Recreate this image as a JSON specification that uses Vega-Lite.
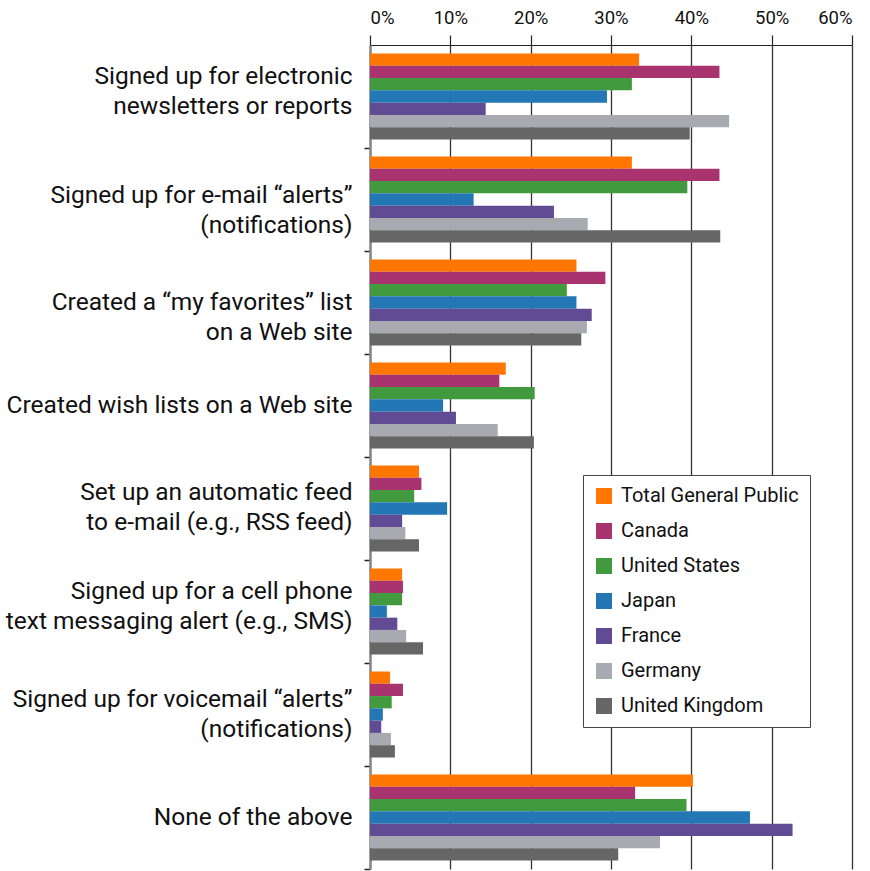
{
  "$schema": "https://vega.github.io/schema/vega-lite/v6.json",
  "autosize": "none",
  "width": 482,
  "height": 824,
  "padding": {"left": 370, "top": 45, "right": 18, "bottom": 2},
  "background": "white",
  "config": {
    "font": "Roboto",
    "view": {"stroke": null}
  },
  "data": {
    "values": [
      {"cat": "Signed up for electronic|newsletters or reports", "grp": "Total General Public", "v": 33.5},
      {"cat": "Signed up for electronic|newsletters or reports", "grp": "Canada", "v": 43.5},
      {"cat": "Signed up for electronic|newsletters or reports", "grp": "United States", "v": 32.6},
      {"cat": "Signed up for electronic|newsletters or reports", "grp": "Japan", "v": 29.5},
      {"cat": "Signed up for electronic|newsletters or reports", "grp": "France", "v": 14.4},
      {"cat": "Signed up for electronic|newsletters or reports", "grp": "Germany", "v": 44.7},
      {"cat": "Signed up for electronic|newsletters or reports", "grp": "United Kingdom", "v": 39.8},
      {"cat": "Signed up for e-mail “alerts”|(notifications)", "grp": "Total General Public", "v": 32.6},
      {"cat": "Signed up for e-mail “alerts”|(notifications)", "grp": "Canada", "v": 43.5},
      {"cat": "Signed up for e-mail “alerts”|(notifications)", "grp": "United States", "v": 39.5},
      {"cat": "Signed up for e-mail “alerts”|(notifications)", "grp": "Japan", "v": 12.9},
      {"cat": "Signed up for e-mail “alerts”|(notifications)", "grp": "France", "v": 22.9},
      {"cat": "Signed up for e-mail “alerts”|(notifications)", "grp": "Germany", "v": 27.1},
      {"cat": "Signed up for e-mail “alerts”|(notifications)", "grp": "United Kingdom", "v": 43.6},
      {"cat": "Created a “my favorites” list|on a Web site", "grp": "Total General Public", "v": 25.7},
      {"cat": "Created a “my favorites” list|on a Web site", "grp": "Canada", "v": 29.3},
      {"cat": "Created a “my favorites” list|on a Web site", "grp": "United States", "v": 24.5},
      {"cat": "Created a “my favorites” list|on a Web site", "grp": "Japan", "v": 25.7},
      {"cat": "Created a “my favorites” list|on a Web site", "grp": "France", "v": 27.6},
      {"cat": "Created a “my favorites” list|on a Web site", "grp": "Germany", "v": 27.0},
      {"cat": "Created a “my favorites” list|on a Web site", "grp": "United Kingdom", "v": 26.3},
      {"cat": "Created wish lists on a Web site", "grp": "Total General Public", "v": 16.9},
      {"cat": "Created wish lists on a Web site", "grp": "Canada", "v": 16.1},
      {"cat": "Created wish lists on a Web site", "grp": "United States", "v": 20.5},
      {"cat": "Created wish lists on a Web site", "grp": "Japan", "v": 9.1},
      {"cat": "Created wish lists on a Web site", "grp": "France", "v": 10.7},
      {"cat": "Created wish lists on a Web site", "grp": "Germany", "v": 15.9},
      {"cat": "Created wish lists on a Web site", "grp": "United Kingdom", "v": 20.4},
      {"cat": "Set up an automatic feed|to e-mail (e.g., RSS feed)", "grp": "Total General Public", "v": 6.1},
      {"cat": "Set up an automatic feed|to e-mail (e.g., RSS feed)", "grp": "Canada", "v": 6.4},
      {"cat": "Set up an automatic feed|to e-mail (e.g., RSS feed)", "grp": "United States", "v": 5.5},
      {"cat": "Set up an automatic feed|to e-mail (e.g., RSS feed)", "grp": "Japan", "v": 9.6},
      {"cat": "Set up an automatic feed|to e-mail (e.g., RSS feed)", "grp": "France", "v": 4.0},
      {"cat": "Set up an automatic feed|to e-mail (e.g., RSS feed)", "grp": "Germany", "v": 4.4},
      {"cat": "Set up an automatic feed|to e-mail (e.g., RSS feed)", "grp": "United Kingdom", "v": 6.1},
      {"cat": "Signed up for a cell phone|text messaging alert (e.g., SMS)", "grp": "Total General Public", "v": 4.0},
      {"cat": "Signed up for a cell phone|text messaging alert (e.g., SMS)", "grp": "Canada", "v": 4.1},
      {"cat": "Signed up for a cell phone|text messaging alert (e.g., SMS)", "grp": "United States", "v": 4.0},
      {"cat": "Signed up for a cell phone|text messaging alert (e.g., SMS)", "grp": "Japan", "v": 2.1},
      {"cat": "Signed up for a cell phone|text messaging alert (e.g., SMS)", "grp": "France", "v": 3.4},
      {"cat": "Signed up for a cell phone|text messaging alert (e.g., SMS)", "grp": "Germany", "v": 4.5},
      {"cat": "Signed up for a cell phone|text messaging alert (e.g., SMS)", "grp": "United Kingdom", "v": 6.6},
      {"cat": "Signed up for voicemail “alerts”|(notifications)", "grp": "Total General Public", "v": 2.5},
      {"cat": "Signed up for voicemail “alerts”|(notifications)", "grp": "Canada", "v": 4.1},
      {"cat": "Signed up for voicemail “alerts”|(notifications)", "grp": "United States", "v": 2.7},
      {"cat": "Signed up for voicemail “alerts”|(notifications)", "grp": "Japan", "v": 1.6},
      {"cat": "Signed up for voicemail “alerts”|(notifications)", "grp": "France", "v": 1.4},
      {"cat": "Signed up for voicemail “alerts”|(notifications)", "grp": "Germany", "v": 2.6},
      {"cat": "Signed up for voicemail “alerts”|(notifications)", "grp": "United Kingdom", "v": 3.1},
      {"cat": "None of the above", "grp": "Total General Public", "v": 40.2},
      {"cat": "None of the above", "grp": "Canada", "v": 33.0},
      {"cat": "None of the above", "grp": "United States", "v": 39.4},
      {"cat": "None of the above", "grp": "Japan", "v": 47.3},
      {"cat": "None of the above", "grp": "France", "v": 52.6},
      {"cat": "None of the above", "grp": "Germany", "v": 36.1},
      {"cat": "None of the above", "grp": "United Kingdom", "v": 30.9}
    ]
  },
  "mark": {"type": "bar", "strokeWidth": 0},
  "encoding": {
    "y": {
      "field": "cat",
      "type": "nominal",
      "sort": null,
      "scale": {"paddingInner": 0.165, "paddingOuter": 0.0825},
      "axis": {
        "title": null,
        "labelExpr": "split(datum.label, '|')",
        "labelFontSize": 24.5,
        "labelColor": "#111",
        "labelLineHeight": 30,
        "labelPadding": 12,
        "labelLimit": 400,
        "tickOffset": 51.5,
        "labelOffset": {
          "condition": [
            {"test": "indexof(datum.value, 'electronic') >= 0", "value": -71.5},
            {"test": "indexof(datum.value, 'e-mail “alerts”') >= 0", "value": -55.5},
            {"test": "indexof(datum.value, 'automatic') >= 0", "value": -67.5},
            {"test": "indexof(datum.value, 'cell phone') >= 0", "value": -71.5},
            {"test": "indexof(datum.value, 'voicemail') >= 0", "value": -66.5}
          ],
          "value": -51.5
        },
        "tickSize": 6,
        "tickColor": "#222",
        "tickWidth": 1.5,
        "domainColor": "#888",
        "domainWidth": 2.5,
        "grid": false
      }
    },
    "x": {
      "field": "v",
      "type": "quantitative",
      "scale": {"domain": [0, 60], "nice": false},
      "axis": {
        "orient": "top",
        "title": null,
        "values": [0, 10, 20, 30, 40, 50, 60],
        "labelExpr": "datum.value + '%'",
        "labelFontSize": 18.5,
        "labelColor": "#111",
        "labelPadding": 8,
        "tickSize": 10,
        "tickColor": "#222",
        "tickWidth": 1.2,
        "domainColor": "#222",
        "domainWidth": 1.2,
        "grid": true,
        "gridColor": "#333",
        "gridWidth": 1.3,
        "gridOpacity": 1
      }
    },
    "yOffset": {
      "field": "grp",
      "type": "nominal",
      "sort": ["Total General Public", "Canada", "United States", "Japan", "France", "Germany", "United Kingdom"],
      "scale": {"paddingInner": 0, "paddingOuter": 0}
    },
    "color": {
      "field": "grp",
      "type": "nominal",
      "sort": ["Total General Public", "Canada", "United States", "Japan", "France", "Germany", "United Kingdom"],
      "scale": {
        "domain": ["Total General Public", "Canada", "United States", "Japan", "France", "Germany", "United Kingdom"],
        "range": ["#FF7700", "#A8336F", "#419A3D", "#2277B4", "#614B94", "#A9A9B2", "#666666"]
      },
      "legend": {
        "title": null,
        "orient": "none",
        "legendX": 213,
        "legendY": 430,
        "direction": "vertical",
        "fillColor": "white",
        "strokeColor": "#444",
        "padding": 11,
        "symbolType": "square",
        "symbolSize": 256,
        "symbolStrokeWidth": 0,
        "symbolOpacity": 1,
        "labelFontSize": 20,
        "labelColor": "#111",
        "labelOffset": 7,
        "labelLimit": 300,
        "rowPadding": 15
      }
    }
  }
}
